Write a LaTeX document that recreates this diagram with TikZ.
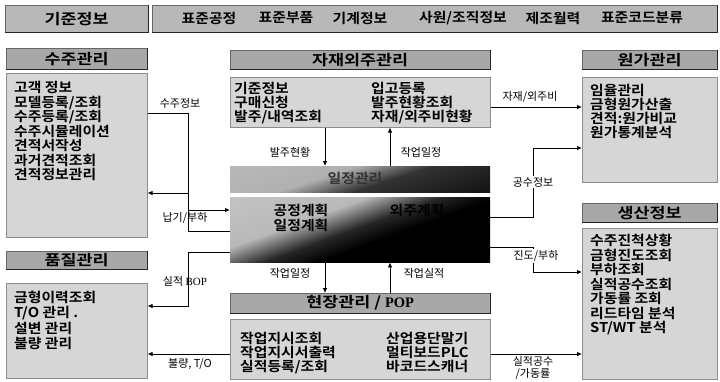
\documentclass[tikz,border=0pt]{standalone}
\usepackage{fontspec}
\setmainfont{Noto Sans CJK KR}[BoldFont={* Bold}]
\newfontfamily\krwide{Noto Sans CJK KR}[FakeStretch=1.1, BoldFont={* Bold}]
\newfontfamily\krhdr{Noto Sans CJK KR}[FakeStretch=1.2, BoldFont={* Bold}]
\newfontfamily\lserif{Liberation Serif}
\usetikzlibrary{arrows.meta}
\definecolor{hdrgray}{gray}{0.66}
\definecolor{bodygray}{gray}{0.84}
\definecolor{topgray}{gray}{0.72}
\pgfdeclarehorizontalshading{darkgradA}{100bp}{color(0bp)=(gray!50); color(42bp)=(gray!62); color(56bp)=(black!80); color(80bp)=(black!92); color(100bp)=(black!85)}
\pgfdeclarehorizontalshading{darkgradB}{100bp}{color(0bp)=(gray!40); color(38bp)=(gray!55); color(49bp)=(black!85); color(57bp)=(black); color(100bp)=(black)}
\begin{document}
\begin{tikzpicture}[x=1pt,y=-1pt,
  hdrbox/.style={draw=black!60, line width=0.4pt, fill=hdrgray, anchor=north west, inner sep=0pt, font=\krhdr\fontsize{14.5}{16}\selectfont\bfseries},
  topbox/.style={draw=black!60, line width=0.4pt, fill=topgray, anchor=north west, inner sep=0pt},
  bodybox/.style={draw=black!45, line width=0.5pt, fill=bodygray, anchor=north west, inner sep=0pt},
  bodytxt/.style={anchor=north west, inner sep=0pt, align=left, font=\krwide\fontsize{13.5}{14.5}\selectfont\bfseries},
  toptxt/.style={inner sep=0pt, font=\krwide\fontsize{13.5}{15}\selectfont\bfseries},
  lbl/.style={inner sep=1pt, font=\fontsize{11}{12}\selectfont},
  darktxt/.style={inner sep=0pt, text=black, font=\krwide\fontsize{13.5}{15}\selectfont\bfseries},
  conn/.style={line width=0.8pt},
  arr/.style={conn, -{Latex[length=5pt,width=4.5pt]}}]
\useasboundingbox (0,0) rectangle (720,381);
\fill[white] (0,0) rectangle (720,381);

% top row
\node[topbox, minimum width=143pt, minimum height=27pt, font=\krhdr\fontsize{14.5}{16}\selectfont\bfseries] (top1) at (5,5) {기준정보};
\node[topbox, minimum width=565pt, minimum height=27pt] (top2) at (152,5) {};
\node[toptxt] (t1) at (209,18) {표준공정};
\node[toptxt] (t2) at (286,18) {표준부품};
\node[toptxt] (t3) at (360,18) {기계정보};
\node[toptxt] (t4) at (463,18) {사원/조직정보};
\node[toptxt] (t5) at (553,18) {제조월력};
\node[toptxt] (t6) at (642,18) {표준코드분류};

% left column
\node[hdrbox, minimum width=141pt, minimum height=21pt] (sjh) at (6,48) {수주관리};
\node[bodybox, minimum width=141pt, minimum height=164pt] (sjb) at (6,73) {};
\node[bodytxt] (sjt) at (14,81) {고객 정보\\모델등록/조회\\수주등록/조회\\수주시뮬레이션\\견적서작성\\과거견적조회\\견적정보관리};

\node[hdrbox, minimum width=141pt, minimum height=18pt] (qh) at (6,251) {품질관리};
\node[bodybox, minimum width=141pt, minimum height=95pt] (qb) at (6,283) {};
\node[bodytxt, font=\krwide\fontsize{13.5}{15.3}\selectfont\bfseries] (qt) at (14,291) {금형이력조회\\T/O 관리 .\\설변 관리\\불량 관리};

% center column
\node[hdrbox, minimum width=260pt, minimum height=19pt] (jh) at (230,50) {자재외주관리};
\node[bodybox, minimum width=260pt, minimum height=50pt] (jb) at (230,77) {};
\node[bodytxt, font=\krwide\fontsize{13.5}{14}\selectfont\bfseries] (jt1) at (234,82) {기준정보\\구매신청\\발주/내역조회};
\node[bodytxt, font=\krwide\fontsize{13.5}{14}\selectfont\bfseries] (jt2) at (371,82) {입고등록\\발주현황조회\\자재/외주비현황};

\shade[shading=darkgradA, shading angle=-72] (230,166) rectangle (490,192);
\node[inner sep=0pt, minimum width=260pt, minimum height=26pt, anchor=north west] (d1) at (230,166) {};
\node[darktxt, text=black!80] (d1t) at (355,178) {일정관리};

\shade[shading=darkgradB, shading angle=-70] (230,197) rectangle (490,262);
\node[inner sep=0pt, minimum width=260pt, minimum height=65pt, anchor=north west] (d2) at (230,197) {};
\node[darktxt] (d2a) at (301,210) {공정계획};
\node[darktxt] (d2b) at (417,210) {외주계획};
\node[darktxt] (d2c) at (301,225) {일정계획};

\node[hdrbox, minimum width=260pt, minimum height=20pt] (ph) at (230,293) {현장관리 / {\lserif\bfseries POP}};
\node[bodybox, minimum width=260pt, minimum height=60pt] (pb) at (230,319) {};
\node[bodytxt, font=\krwide\fontsize{13.5}{14}\selectfont\bfseries] (pt1) at (240,332) {작업지시조회\\작업지시서출력\\실적등록/조회};
\node[bodytxt, font=\krwide\fontsize{13.5}{14}\selectfont\bfseries] (pt2) at (386,332) {산업용단말기\\멀티보드PLC\\바코드스캐너};

% right column
\node[hdrbox, minimum width=135pt, minimum height=19pt] (wh) at (582,50) {원가관리};
\node[bodybox, minimum width=135pt, minimum height=105pt] (wb) at (582,77) {};
\node[bodytxt, font=\krwide\fontsize{13.5}{14}\selectfont\bfseries] (wt) at (590,84) {임율관리\\금형원가산출\\견적:원가비교\\원가통계분석};

\node[hdrbox, minimum width=135pt, minimum height=19pt] (sh) at (582,203) {생산정보};
\node[bodybox, minimum width=135pt, minimum height=151pt] (sb) at (582,228) {};
\node[bodytxt] (st) at (590,234) {수주진척상황\\금형진도조회\\부하조회\\실적공수조회\\가동률 조회\\리드타임 분석\\ST/WT 분석};

% header shadows
\foreach \n in {top1,top2,sjh,qh,jh,ph,wh,sh}
  \draw[line width=1.6pt, black!85] (\n.south west) -- (\n.south east) -- (\n.north east);

% connectors
\coordinate (c1a) at (188,113);
\coordinate (c1b) at (188,210);
\draw[arr] (sjb.east |- c1a) -- (c1a) -- (c1b) -- (d2.west |- c1b);
\node[lbl] (l1) at (180,103) {수주정보};

\coordinate (c2a) at (188,231);
\coordinate (c2b) at (188,193);
\draw[arr] (d2.west |- c2a) -- (c2a) -- (c2b) -- (sjb.east |- c2b);
\node[lbl] (l2) at (185,218) {납기/부하};

\coordinate (c3a) at (188,252);
\coordinate (c3b) at (188,306);
\draw[arr] (d2.west |- c3a) -- (c3a) -- (c3b) -- (qb.east |- c3b);
\node[lbl] (l3) at (185,281) {실적 {\lserif BOP}};

\coordinate (c4) at (190,354);
\draw[arr] (pb.west |- c4) -- (qb.east |- c4);
\node[lbl] (l4) at (190,364) {불량, T/O};

\coordinate (c5) at (536,107);
\draw[arr] (jb.east |- c5) -- (wb.west |- c5);
\node[lbl] (l5) at (530,97) {자재/외주비};

\coordinate (c6a) at (533,217);
\coordinate (c6b) at (533,148);
\draw[arr] (d2.east |- c6a) -- (c6a) -- (c6b) -- (wb.west |- c6b);
\node[lbl, fill=white] (l6) at (533,182) {공수정보};

\coordinate (c7a) at (533,247);
\coordinate (c7b) at (533,272);
\draw[arr] (d2.east |- c7a) -- (c7a) -- (c7b) -- (sb.west |- c7b);
\node[lbl, fill=white] (l7) at (536,256) {진도/부하};

\coordinate (c8) at (536,354);
\draw[arr] (pb.east |- c8) -- (sb.west |- c8);
\node[lbl, align=center, font=\fontsize{11}{12}\selectfont] (l8) at (533,368) {실적공수\\/가동률};

\coordinate (c9) at (325,140);
\coordinate (c10) at (390,140);
\draw[arr] (jb.south -| c9) -- (d1.north -| c9);
\draw[arr] (d1.north -| c10) -- (jb.south -| c10);
\node[lbl] (l9) at (290,152) {발주현황};
\node[lbl] (l10) at (421,152) {작업일정};

\draw[arr] (d2.south -| c9) -- (ph.north -| c9);
\draw[arr] (ph.north -| c10) -- (d2.south -| c10);
\node[lbl] (l11) at (290,273) {작업일정};
\node[lbl] (l12) at (424,273) {작업실적};
\end{tikzpicture}
\end{document}
